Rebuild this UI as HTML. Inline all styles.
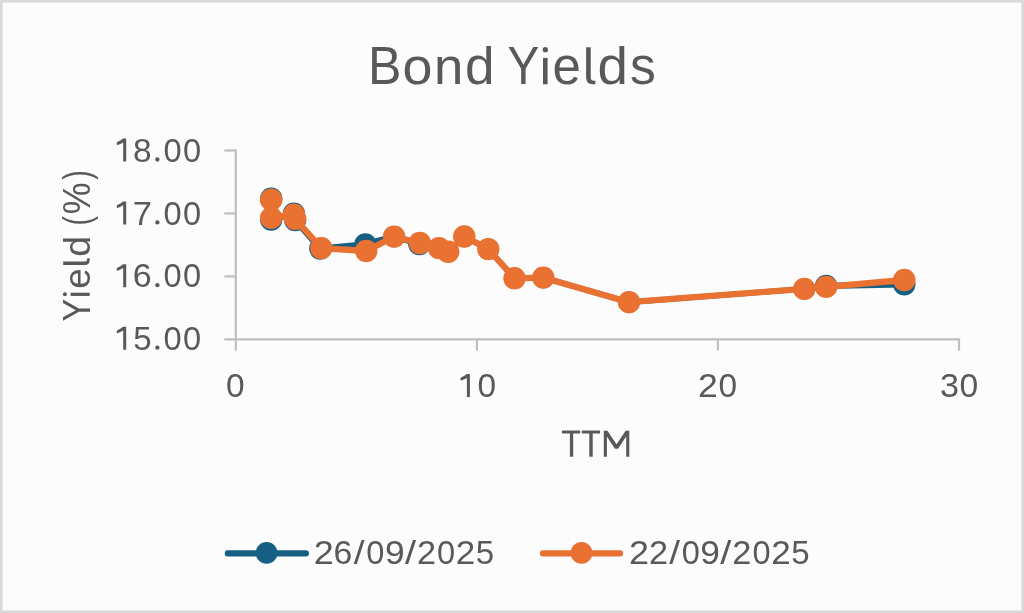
<!DOCTYPE html>
<html><head><meta charset="utf-8"><style>
html,body{margin:0;padding:0;background:#fcfcfc;overflow:hidden;}
svg{display:block;}
.t text{font-family:"Liberation Sans",sans-serif;fill:#595959;}
</style></head><body>
<svg width="1024" height="613" viewBox="0 0 1024 613">
<rect x="0" y="0" width="1024" height="613" fill="#fcfcfc"/>
<rect x="1" y="1" width="1022" height="611" fill="none" stroke="#d9d9d9" stroke-width="2"/>
<rect x="2.5" y="2.5" width="1019" height="608" fill="none" stroke="#e9e9e9" stroke-width="1"/>
<line x1="235.8" y1="149.4" x2="235.8" y2="350.6" stroke="#BFBFBF" stroke-width="2.2"/>
<line x1="224.3" y1="339.3" x2="960.1" y2="339.3" stroke="#BFBFBF" stroke-width="2.2"/>
<line x1="224.3" y1="276.4" x2="235.8" y2="276.4" stroke="#BFBFBF" stroke-width="2.2"/>
<line x1="224.3" y1="213.4" x2="235.8" y2="213.4" stroke="#BFBFBF" stroke-width="2.2"/>
<line x1="224.3" y1="150.5" x2="235.8" y2="150.5" stroke="#BFBFBF" stroke-width="2.2"/>
<line x1="476.9" y1="339.3" x2="476.9" y2="350.6" stroke="#BFBFBF" stroke-width="2.2"/>
<line x1="717.9" y1="339.3" x2="717.9" y2="350.6" stroke="#BFBFBF" stroke-width="2.2"/>
<line x1="959.0" y1="339.3" x2="959.0" y2="350.6" stroke="#BFBFBF" stroke-width="2.2"/>

<line x1="271.2" y1="198.7" x2="271.2" y2="219.5" stroke="#156082" stroke-width="6.3" stroke-linecap="round"/>
<line x1="271.2" y1="219.5" x2="293.9" y2="213.6" stroke="#156082" stroke-width="6.3" stroke-linecap="round"/>
<line x1="293.9" y1="213.6" x2="295.1" y2="220.0" stroke="#156082" stroke-width="6.3" stroke-linecap="round"/>
<line x1="295.1" y1="220.0" x2="320.3" y2="248.6" stroke="#156082" stroke-width="6.3" stroke-linecap="round"/>
<line x1="320.3" y1="248.6" x2="365.4" y2="244.4" stroke="#156082" stroke-width="6.3" stroke-linecap="round"/>
<line x1="365.4" y1="244.4" x2="394.1" y2="236.6" stroke="#156082" stroke-width="6.3" stroke-linecap="round"/>
<line x1="394.1" y1="236.6" x2="419.3" y2="244.0" stroke="#156082" stroke-width="6.3" stroke-linecap="round"/>
<line x1="419.3" y1="244.0" x2="439.0" y2="248.1" stroke="#156082" stroke-width="6.3" stroke-linecap="round"/>
<line x1="439.0" y1="248.1" x2="448.2" y2="251.8" stroke="#156082" stroke-width="5.5" stroke-linecap="round"/>
<line x1="448.2" y1="251.8" x2="464.3" y2="236.5" stroke="#156082" stroke-width="5.5" stroke-linecap="round"/>
<line x1="464.3" y1="236.5" x2="488.3" y2="249.1" stroke="#156082" stroke-width="5.5" stroke-linecap="round"/>
<line x1="488.3" y1="249.1" x2="514.5" y2="278.3" stroke="#156082" stroke-width="5.5" stroke-linecap="round"/>
<line x1="514.5" y1="278.3" x2="543.3" y2="277.6" stroke="#156082" stroke-width="5.5" stroke-linecap="round"/>
<line x1="543.3" y1="277.6" x2="629.0" y2="302.2" stroke="#156082" stroke-width="5.5" stroke-linecap="round"/>
<line x1="629.0" y1="302.2" x2="804.3" y2="288.9" stroke="#156082" stroke-width="5.5" stroke-linecap="round"/>
<line x1="804.3" y1="288.9" x2="826.1" y2="285.9" stroke="#156082" stroke-width="6.3" stroke-linecap="round"/>
<line x1="826.1" y1="285.9" x2="904.3" y2="284.3" stroke="#156082" stroke-width="6.3" stroke-linecap="round"/>
<circle cx="271.2" cy="198.7" r="11.2" fill="#156082"/>
<circle cx="271.2" cy="219.5" r="11.2" fill="#156082"/>
<circle cx="293.9" cy="213.6" r="11.2" fill="#156082"/>
<circle cx="295.1" cy="220.0" r="11.2" fill="#156082"/>
<circle cx="320.3" cy="248.6" r="11.2" fill="#156082"/>
<circle cx="365.4" cy="244.4" r="11.2" fill="#156082"/>
<circle cx="394.1" cy="236.6" r="10.7" fill="#156082"/>
<circle cx="419.3" cy="244.0" r="11.2" fill="#156082"/>
<circle cx="439.0" cy="248.1" r="10.7" fill="#156082"/>
<circle cx="448.2" cy="251.8" r="10.7" fill="#156082"/>
<circle cx="464.3" cy="236.5" r="10.7" fill="#156082"/>
<circle cx="488.3" cy="249.1" r="10.7" fill="#156082"/>
<circle cx="514.5" cy="278.3" r="10.7" fill="#156082"/>
<circle cx="543.3" cy="277.6" r="10.7" fill="#156082"/>
<circle cx="629.0" cy="302.2" r="10.7" fill="#156082"/>
<circle cx="804.3" cy="288.9" r="10.7" fill="#156082"/>
<circle cx="826.1" cy="285.9" r="11.2" fill="#156082"/>
<circle cx="904.3" cy="284.3" r="11.2" fill="#156082"/>

<path d="M271.2,199.7 L271.2,217.8 L293.9,214.6 L295.1,218.8 L321.3,248.2 L366.2,251.0 L394.1,236.6 L419.8,243.0 L439.0,248.1 L448.2,251.8 L464.3,236.5 L488.3,249.1 L514.5,278.3 L543.3,277.6 L629.0,302.2 L804.3,288.9 L826.1,286.9 L904.3,280.0" fill="none" stroke="#E97132" stroke-width="6.3" stroke-linejoin="round" stroke-linecap="round"/>
<circle cx="271.2" cy="199.7" r="11.2" fill="#E97132"/>
<circle cx="271.2" cy="217.8" r="11.2" fill="#E97132"/>
<circle cx="293.9" cy="214.6" r="11.2" fill="#E97132"/>
<circle cx="295.1" cy="218.8" r="11.2" fill="#E97132"/>
<circle cx="321.3" cy="248.2" r="11.2" fill="#E97132"/>
<circle cx="366.2" cy="251.0" r="11.2" fill="#E97132"/>
<circle cx="394.1" cy="236.6" r="11.2" fill="#E97132"/>
<circle cx="419.8" cy="243.0" r="11.2" fill="#E97132"/>
<circle cx="439.0" cy="248.1" r="11.2" fill="#E97132"/>
<circle cx="448.2" cy="251.8" r="11.2" fill="#E97132"/>
<circle cx="464.3" cy="236.5" r="11.2" fill="#E97132"/>
<circle cx="488.3" cy="249.1" r="11.2" fill="#E97132"/>
<circle cx="514.5" cy="278.3" r="11.2" fill="#E97132"/>
<circle cx="543.3" cy="277.6" r="11.2" fill="#E97132"/>
<circle cx="629.0" cy="302.2" r="11.2" fill="#E97132"/>
<circle cx="804.3" cy="288.9" r="11.2" fill="#E97132"/>
<circle cx="826.1" cy="286.9" r="11.2" fill="#E97132"/>
<circle cx="904.3" cy="280.0" r="11.2" fill="#E97132"/>

<line x1="227.8" y1="553.4" x2="305.9" y2="553.4" stroke="#156082" stroke-width="6.1" stroke-linecap="round"/>
<circle cx="266.6" cy="552.9" r="10.9" fill="#156082"/>
<line x1="542.9" y1="553.4" x2="620.1" y2="553.4" stroke="#E97132" stroke-width="6.1" stroke-linecap="round"/>
<circle cx="581.5" cy="552.9" r="10.9" fill="#E97132"/>

<g class="t" style="filter:opacity(1)">
<text transform="translate(368.08,84.30) scale(0.9278,1.0000)" font-size="54.07">B</text>
<text transform="translate(402.54,84.30) scale(0.9949,0.9480)" font-size="54.07">o</text>
<text transform="translate(434.00,84.30) scale(0.9752,0.9480)" font-size="54.07">n</text>
<text transform="translate(465.07,84.30) scale(0.9829,0.9480)" font-size="54.07">d</text>
<text transform="translate(507.55,84.30) scale(0.8816,1.0000)" font-size="54.07">Y</text>
<text transform="translate(552.54,84.30) scale(0.9420,0.9480)" font-size="54.07">e</text>
<text transform="translate(597.60,84.30) scale(1.0117,0.9480)" font-size="54.07">d</text>
<text transform="translate(629.96,84.30) scale(0.9543,0.9480)" font-size="54.07">s</text>
<path fill="#595959" d="M543.0,57.9 H547.6 V84.3 H543.0 Z"/><circle cx="545.3" cy="49.7" r="2.65" fill="#595959"/>
<path fill="#595959" d="M586.10,47.20 L590.75,47.20 L590.75,77.50 Q590.75,80.80 594.00,80.80 L595.40,80.80 L595.40,84.30 L593.00,84.30 Q586.10,84.30 586.10,77.50 Z"/>
<path transform="translate(116.80,161.60)" d="M9.4,-23.1 L9.4,0 L6.4,0 L6.4,-19.2 C4.6,-18.0 2.6,-17.1 0.8,-16.6 C0.2,-16.5 0,-17.0 0,-17.6 L0,-18.9 C0,-19.3 0.2,-19.5 0.5,-19.6 C2.6,-20.4 4.6,-21.6 6.2,-23.1 Z" fill="#595959"/>
<text transform="translate(133.05,161.60) scale(1.0018,1.0000)" font-size="33.4">8</text>
<circle cx="157.40" cy="159.50" r="2.15" fill="#595959"/>
<text transform="translate(163.43,161.60) scale(0.9771,1.0000)" font-size="33.4">0</text>
<text transform="translate(182.93,161.60) scale(0.9771,1.0000)" font-size="33.4">0</text>
<path transform="translate(116.80,224.50)" d="M9.4,-23.1 L9.4,0 L6.4,0 L6.4,-19.2 C4.6,-18.0 2.6,-17.1 0.8,-16.6 C0.2,-16.5 0,-17.0 0,-17.6 L0,-18.9 C0,-19.3 0.2,-19.5 0.5,-19.6 C2.6,-20.4 4.6,-21.6 6.2,-23.1 Z" fill="#595959"/>
<text transform="translate(132.73,224.50) scale(1.0340,1.0000)" font-size="33.4">7</text>
<circle cx="157.40" cy="222.40" r="2.15" fill="#595959"/>
<text transform="translate(163.43,224.50) scale(0.9771,1.0000)" font-size="33.4">0</text>
<text transform="translate(182.93,224.50) scale(0.9771,1.0000)" font-size="33.4">0</text>
<path transform="translate(116.80,287.30)" d="M9.4,-23.1 L9.4,0 L6.4,0 L6.4,-19.2 C4.6,-18.0 2.6,-17.1 0.8,-16.6 C0.2,-16.5 0,-17.0 0,-17.6 L0,-18.9 C0,-19.3 0.2,-19.5 0.5,-19.6 C2.6,-20.4 4.6,-21.6 6.2,-23.1 Z" fill="#595959"/>
<text transform="translate(132.77,287.30) scale(1.0187,1.0000)" font-size="33.4">6</text>
<circle cx="157.40" cy="285.20" r="2.15" fill="#595959"/>
<text transform="translate(163.43,287.30) scale(0.9771,1.0000)" font-size="33.4">0</text>
<text transform="translate(182.93,287.30) scale(0.9771,1.0000)" font-size="33.4">0</text>
<path transform="translate(116.80,349.80)" d="M9.4,-23.1 L9.4,0 L6.4,0 L6.4,-19.2 C4.6,-18.0 2.6,-17.1 0.8,-16.6 C0.2,-16.5 0,-17.0 0,-17.6 L0,-18.9 C0,-19.3 0.2,-19.5 0.5,-19.6 C2.6,-20.4 4.6,-21.6 6.2,-23.1 Z" fill="#595959"/>
<text transform="translate(133.17,349.80) scale(0.9914,1.0000)" font-size="33.4">5</text>
<circle cx="157.40" cy="347.70" r="2.15" fill="#595959"/>
<text transform="translate(163.43,349.80) scale(0.9771,1.0000)" font-size="33.4">0</text>
<text transform="translate(182.93,349.80) scale(0.9771,1.0000)" font-size="33.4">0</text>
<text transform="translate(226.09,397.10) scale(1.0021,1.0000)" font-size="33.4">0</text>
<path transform="translate(460.50,397.10)" d="M9.4,-23.1 L9.4,0 L6.4,0 L6.4,-19.2 C4.6,-18.0 2.6,-17.1 0.8,-16.6 C0.2,-16.5 0,-17.0 0,-17.6 L0,-18.9 C0,-19.3 0.2,-19.5 0.5,-19.6 C2.6,-20.4 4.6,-21.6 6.2,-23.1 Z" fill="#595959"/>
<text transform="translate(477.39,397.10) scale(1.0021,1.0000)" font-size="33.4">0</text>
<text transform="translate(698.11,397.10) scale(1.0647,1.0000)" font-size="33.4">2</text>
<text transform="translate(718.39,397.10) scale(1.0021,1.0000)" font-size="33.4">0</text>
<text transform="translate(939.90,397.10) scale(1.0230,1.0000)" font-size="33.4">3</text>
<text transform="translate(959.38,397.10) scale(1.0084,1.0000)" font-size="33.4">0</text>
<path fill="#595959" d="M562,430.5 H580.2 V433.5 H573.2 V456.8 H569.9 V433.5 H562 Z M581.8,430.5 H600 V433.5 H592.7 V456.8 H589.3 V433.5 H581.8 Z M603.8,456.8 V430.7 H607.4 L616.5,444.3 L625.7,430.7 H629.3 V456.8 H626.2 V436.5 L618.1,448.7 H614.9 L606.9,436.5 V456.8 Z"/>
<g transform="translate(89.7,0) rotate(-90)">
<text transform="translate(-321.55,0.00) scale(0.8792,1.0000)" font-size="38.7">Y</text>
<text transform="translate(-288.67,0.00) scale(0.9527,0.9480)" font-size="38.7">e</text>
<text transform="translate(-256.68,0.00) scale(0.9711,0.9480)" font-size="38.7">d</text>
<text transform="translate(-225.38,0.00) scale(0.7407,1.0000)" font-size="38.7">(</text>
<text transform="translate(-214.28,0.00) scale(0.9257,1.0000)" font-size="38.7">%</text>
<text transform="translate(-179.77,0.00) scale(0.7407,1.0000)" font-size="38.7">)</text>
<path fill="#595959" d="M-264.90,-26.55 L-261.57,-26.55 L-261.57,-4.87 Q-261.57,-2.51 -259.25,-2.51 L-258.24,-2.51 L-258.24,0.00 L-259.96,0.00 Q-264.90,0.00 -264.90,-4.87 Z"/>
</g>
<path fill="#595959" d="M70.6,292.7 H89.7 V295.95 H70.6 Z"/><circle cx="64.9" cy="294.3" r="1.95" fill="#595959"/>
<text transform="translate(313.69,563.70) scale(1.0778,1.0000)" font-size="33.4">2</text>
<text transform="translate(333.58,563.70) scale(1.0122,1.0000)" font-size="33.4">6</text>
<text transform="translate(353.80,563.70) scale(1.1638,1.0000)" font-size="33.4">/</text>
<text transform="translate(366.23,563.70) scale(0.9771,1.0000)" font-size="33.4">0</text>
<text transform="translate(384.95,563.70) scale(1.0565,1.0000)" font-size="33.4">9</text>
<text transform="translate(404.90,563.70) scale(1.1962,1.0000)" font-size="33.4">/</text>
<text transform="translate(416.88,563.70) scale(1.0252,1.0000)" font-size="33.4">2</text>
<text transform="translate(437.03,563.70) scale(0.9771,1.0000)" font-size="33.4">0</text>
<text transform="translate(455.73,563.70) scale(1.0515,1.0000)" font-size="33.4">2</text>
<text transform="translate(475.77,563.70) scale(0.9914,1.0000)" font-size="33.4">5</text>
<text transform="translate(629.09,563.70) scale(1.0778,1.0000)" font-size="33.4">2</text>
<text transform="translate(648.98,563.70) scale(1.0252,1.0000)" font-size="33.4">2</text>
<text transform="translate(669.20,563.70) scale(1.1638,1.0000)" font-size="33.4">/</text>
<text transform="translate(681.63,563.70) scale(0.9771,1.0000)" font-size="33.4">0</text>
<text transform="translate(700.35,563.70) scale(1.0565,1.0000)" font-size="33.4">9</text>
<text transform="translate(720.30,563.70) scale(1.1962,1.0000)" font-size="33.4">/</text>
<text transform="translate(732.28,563.70) scale(1.0252,1.0000)" font-size="33.4">2</text>
<text transform="translate(752.43,563.70) scale(0.9771,1.0000)" font-size="33.4">0</text>
<text transform="translate(771.13,563.70) scale(1.0515,1.0000)" font-size="33.4">2</text>
<text transform="translate(791.17,563.70) scale(0.9914,1.0000)" font-size="33.4">5</text>
</g>
</svg>
</body></html>
